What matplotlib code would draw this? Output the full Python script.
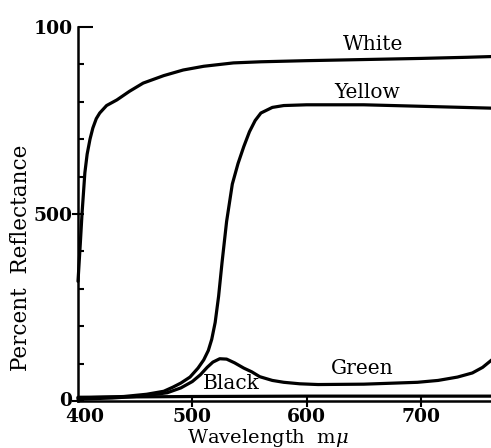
import matplotlib
matplotlib.use("Agg")
import matplotlib.pyplot as plt
import matplotlib.transforms as mtransforms
from matplotlib.lines import TICKRIGHT

plt.rcParams['font.family'] = ['DejaVu Serif']
plt.rcParams['mathtext.fontset'] = 'dejavuserif'

# ---- data ----
white_wl = [400, 402, 403.5, 406, 408, 410.5, 413, 416, 419, 425, 434, 445, 457, 475,
            492, 510, 536, 560, 600, 650, 700, 740, 762]
white_val = [32, 42, 50, 61, 66, 70, 73, 75.5, 77, 79, 80.5, 82.8, 85, 87,
             88.5, 89.5, 90.4, 90.7, 91, 91.3, 91.6, 91.9, 92.1]

yellow_wl = [400, 440, 460, 475, 483, 490, 498, 505, 510, 514, 517, 520, 523, 526, 530,
             535, 540, 545, 550, 555, 560, 570, 580, 600, 650, 700, 762]
yellow_val = [0.8, 1.2, 1.8, 2.6, 3.7, 4.8, 6.4, 8.8, 11, 13.5, 16.5, 21, 28, 37, 48,
              58, 63.5, 68, 72, 75, 77, 78.5, 79, 79.2, 79.2, 78.8, 78.3]

green_wl = [400, 430, 450, 463, 478, 490, 500, 507, 513, 518, 524, 530, 537, 545,
            552, 559, 570, 580, 594, 610, 650, 697, 715, 732, 745, 754, 762]
green_val = [0.5, 0.8, 1.2, 1.6, 2.2, 3.5, 5.2, 7, 9, 10.4, 11.3, 11.2, 10.2, 8.8,
             7.8, 6.5, 5.5, 5, 4.6, 4.4, 4.5, 5, 5.5, 6.4, 7.5, 9, 11]

black_wl = [400, 500, 600, 700, 762]
black_val = [1.0, 1.2, 1.3, 1.3, 1.3]

x_ticks = [400, 500, 600, 700]
x_tick_labels = ["400", "500", "600", "700"]
y_ticks = [0, 50, 100]
y_tick_labels = ["0", "500", "100"]
y_minor = [10, 20, 30, 40, 60, 70, 80, 90]

labels = {"White": (658, 95.2), "Yellow": (653, 82.6), "Green": (648.5, 8.6), "Black": (534, 4.8)}

# ---- figure ----
fig = plt.figure(figsize=(4.91, 4.48), dpi=100)
ax = fig.add_axes([78/491, 1 - 401/448, 1 - 78/491, (401 - 27)/448])

lw = 2.3
for wl, v in [(white_wl, white_val), (yellow_wl, yellow_val),
              (green_wl, green_val), (black_wl, black_val)]:
    ax.plot(wl, v, color='black', lw=lw, solid_capstyle='round',
            solid_joinstyle='round', clip_on=False)

ax.set_xlim(400, 761.3)
ax.set_ylim(0, 100)

for s in ['top', 'right']:
    ax.spines[s].set_visible(False)
for s in ['left', 'bottom']:
    ax.spines[s].set_linewidth(1.8)

ax.set_xticks(x_ticks)
ax.set_xticklabels(x_tick_labels, fontsize=13.5, fontweight='bold')
ax.set_yticks(y_ticks)
ax.set_yticklabels(y_tick_labels, fontsize=13.5, fontweight='bold')
ax.set_yticks(y_minor, minor=True)

ax.tick_params(axis='x', which='major', direction='inout', length=8, width=1.5, pad=1)
ax.tick_params(axis='y', which='major', direction='inout', length=8, width=1.5, pad=0)
ax.tick_params(axis='y', which='minor', direction='in', length=4, width=1.5)

# longer tick at 100
t100 = ax.yaxis.get_major_ticks()[2]
t100.tick1line.set_marker(TICKRIGHT)
t100.tick1line.set_markersize(11)
# no visible tick at 400
ax.xaxis.get_major_ticks()[0].tick1line.set_visible(False)

# nudge the corner labels apart
lbl400 = ax.get_xticklabels()[0]
lbl400.set_transform(lbl400.get_transform() +
                     mtransforms.ScaledTranslation(7/100, 0, fig.dpi_scale_trans))
lbl0 = ax.get_yticklabels()[0]
lbl0.set_transform(lbl0.get_transform() +
                   mtransforms.ScaledTranslation(0, 2/100, fig.dpi_scale_trans))

for name, (x, y) in labels.items():
    ax.text(x, y, name, ha='center', va='center', fontsize=14.5, color='black')

fig.text(268/491, 1 - 438/448, 'Wavelength  m$\\mu$', ha='center', va='center', fontsize=14)
fig.text(21/491, 1 - 258/448, 'Percent  Reflectance', ha='center', va='center',
         rotation=90, fontsize=15.5)

fig.savefig('out.png', dpi=100)
